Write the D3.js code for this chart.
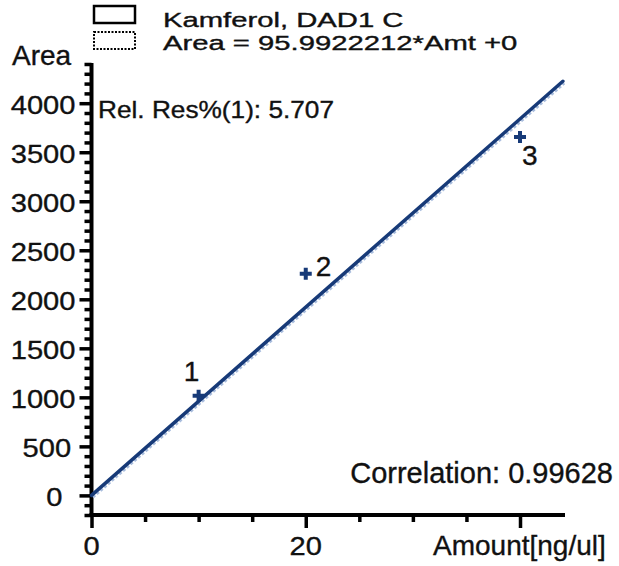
<!DOCTYPE html>
<html>
<head>
<meta charset="utf-8">
<script src="https://cdn.jsdelivr.net/npm/d3@7"></script>
<style>
  body { margin: 0; background: #fff; }
  svg { display: block; font-family: "Liberation Sans", Arial, sans-serif; }
  svg text { stroke: #111; stroke-width: 0.35px; }
</style>
</head>
<body>
<div id="chart"></div>
<script>
// calibration points
var levels = ['1', '2', '3'];
var amounts = [10, 20, 40];
var areas = [1015, 2260, 3656];

// fit as printed in the legend
var slope = 95.9922212;
var intercept = 0;
var fitEnd = 44;

var legendLabels = ['Kamferol, DAD1 C', 'Area = 95.9922212*Amt +0'];
var relResText = 'Rel. Res%(1): 5.707';
var corrText = 'Correlation: 0.99628';

var xMajorTicks = [0, 20, 40];
var xTickLabels = ['0', '20', ''];
var xMinorTicks = [5, 10, 15, 25, 30, 35];
var yMajorTicks = [0, 500, 1000, 1500, 2000, 2500, 3000, 3500, 4000];
var yTickLabels = ['0', '500', '1000', '1500', '2000', '2500', '3000', '3500', '4000'];

var W = 619, H = 566;
var navy = '#173a78';

var svg = d3.select('#chart')
    .append('svg')
    .attr('width', W)
    .attr('height', H);

var x = d3.scaleLinear().domain([0, 44.2]).range([91.5, 565]);
var y = d3.scaleLinear().domain([-200, 4410]).range([515, 63]);

// stretched text, the original is wider than it is tall
function label(px, py, str, size, sx, anchor) {
    return svg.append('text')
        .attr('transform', 'translate(' + px + ',' + py + ') scale(' + sx + ',1)')
        .attr('font-size', size)
        .attr('text-anchor', anchor || 'start')
        .attr('fill', '#111')
        .text(str);
}

// legend
svg.append('rect').attr('x', 94).attr('y', 6).attr('width', 41).attr('height', 17)
    .attr('fill', 'none').attr('stroke', '#000').attr('stroke-width', 2.5);
svg.append('rect').attr('x', 94).attr('y', 32).attr('width', 41).attr('height', 17)
    .attr('fill', 'none').attr('stroke', '#000').attr('stroke-width', 2)
    .attr('stroke-dasharray', '2,1.5');
label(163, 27, legendLabels[0], 19.5, 1.5);
label(163, 50, legendLabels[1], 19.5, 1.5);

// axes
var yMinor = d3.range(-200, 4401, 100).filter(function(d) { return d % 500 !== 0; });

function styleAxis(g) {
    g.select('.domain').remove();
    g.selectAll('.tick line').attr('stroke', '#000').attr('stroke-width', 3.5);
    g.selectAll('.tick text').remove();
}

svg.append('g').attr('transform', 'translate(' + x(0) + ',0)')
    .call(d3.axisLeft(y).tickValues(yMinor).tickSize(7)).call(styleAxis);
svg.append('g').attr('transform', 'translate(' + x(0) + ',0)')
    .call(d3.axisLeft(y).tickValues(yMajorTicks).tickSize(12)).call(styleAxis);
svg.append('g').attr('transform', 'translate(0,' + y(-200) + ')')
    .call(d3.axisBottom(x).tickValues(xMinorTicks).tickSize(7)).call(styleAxis);
svg.append('g').attr('transform', 'translate(0,' + y(-200) + ')')
    .call(d3.axisBottom(x).tickValues(xMajorTicks).tickSize(13)).call(styleAxis);

svg.append('line')
    .attr('x1', x(0)).attr('x2', x(0))
    .attr('y1', y(4410)).attr('y2', y(-200) + 2)
    .attr('stroke', '#000').attr('stroke-width', 4);
svg.append('line')
    .attr('x1', x(0) - 2).attr('x2', x(44.2))
    .attr('y1', y(-200)).attr('y2', y(-200))
    .attr('stroke', '#000').attr('stroke-width', 4);

// tick labels
svg.selectAll('.ylab')
    .data(yMajorTicks)
    .enter()
    .append('text')
    .attr('class', 'ylab')
    .attr('font-size', 26)
    .attr('dy', '0.4em')
    .attr('fill', '#111')
    .text(function(d, i) { return yTickLabels[i]; })
    .each(function(d) {
        var w = this.getComputedTextLength() * 1.12;
        d3.select(this).attr('transform',
            'translate(' + (58 - 0.73 * w) + ',' + y(d) + ') scale(1.12,1)');
    });

xMajorTicks.forEach(function(d, i) {
    label(x(d), 555, xTickLabels[i], 26, 1.12, 'middle');
});

label(12, 65, 'Area', 28, 1);
label(433, 555, 'Amount[ng/ul]', 28, 1);
label(98, 118, relResText, 23, 1.14);
label(613, 483, corrText, 29, 1, 'end');

// calibration line
var fit = [0, fitEnd].map(function(a) { return [a, slope * a + intercept]; });
var line = d3.line()
    .x(function(d) { return x(d[0]); })
    .y(function(d) { return y(d[1]); });

svg.append('path')
    .datum(fit)
    .attr('d', line)
    .attr('transform', 'translate(1.5,2)')
    .attr('fill', 'none')
    .attr('stroke', '#a9bddd')
    .attr('stroke-width', 2.5)
    .attr('stroke-dasharray', '3,2');

svg.append('path')
    .datum(fit)
    .attr('d', line)
    .attr('fill', 'none')
    .attr('stroke', navy)
    .attr('stroke-width', 3.5)
    .attr('stroke-linecap', 'round');

// points
var pts = amounts.map(function(a, i) { return { amt: a, area: areas[i], lvl: levels[i] }; });

svg.selectAll('.pt')
    .data(pts)
    .enter()
    .append('path')
    .attr('class', 'pt')
    .attr('d', 'M-6,0H6M0,-6V6')
    .attr('transform', function(d) { return 'translate(' + x(d.amt) + ',' + y(d.area) + ')'; })
    .attr('stroke', navy)
    .attr('stroke-width', 4);

var lblOffset = [[-7, -15], [10, 2], [2, 28]];
svg.selectAll('.ptlab')
    .data(pts)
    .enter()
    .append('text')
    .attr('class', 'ptlab')
    .attr('x', function(d, i) { return x(d.amt) + lblOffset[i][0]; })
    .attr('y', function(d, i) { return y(d.area) + lblOffset[i][1]; })
    .attr('text-anchor', function(d, i) { return i === 0 ? 'middle' : 'start'; })
    .attr('font-size', 28)
    .attr('fill', '#111')
    .text(function(d) { return d.lvl; });
</script>
</body>
</html>
